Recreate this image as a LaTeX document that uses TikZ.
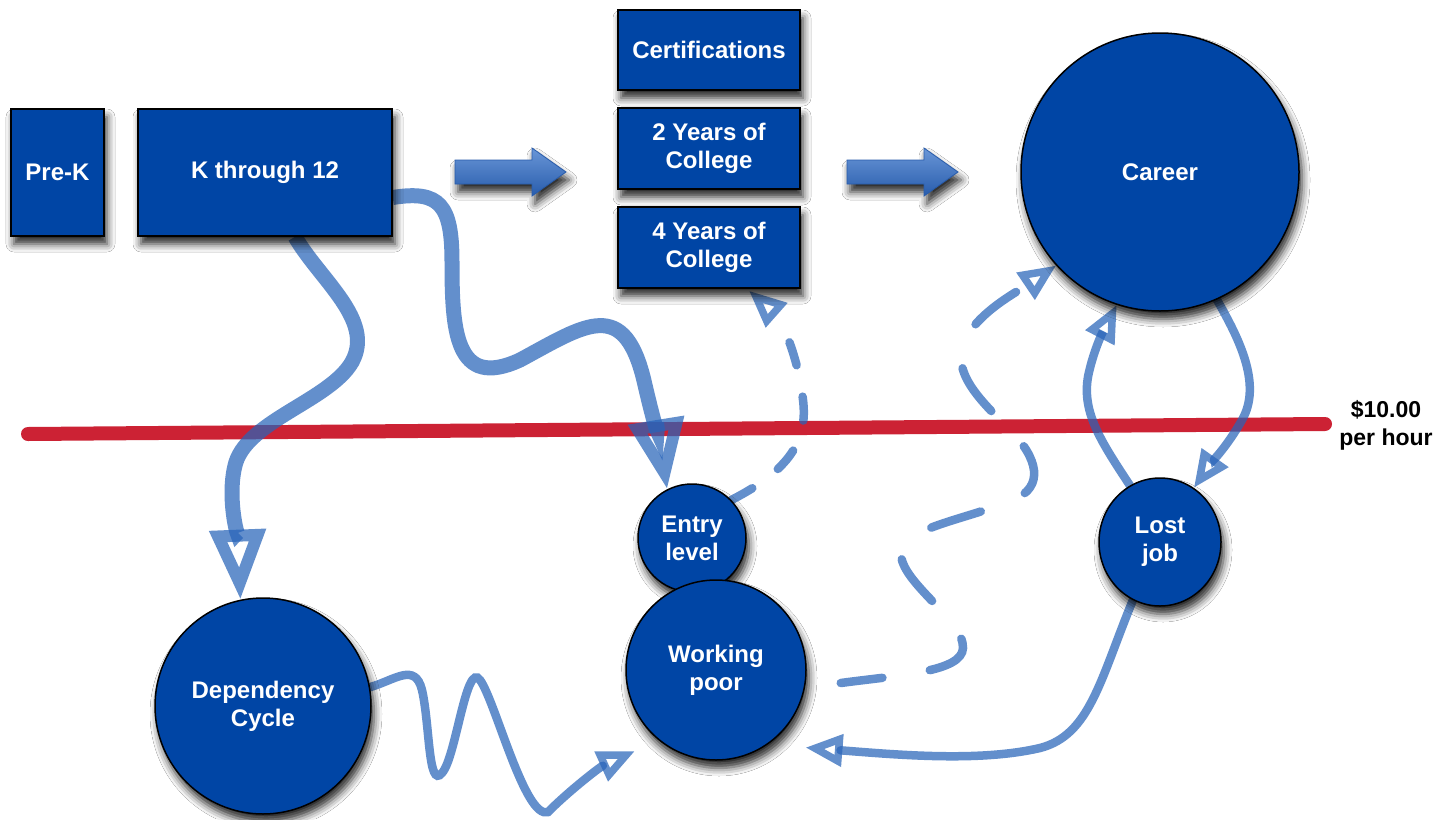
\documentclass[tikz,border=0pt]{standalone}
\usepackage{fontspec}
\setmainfont{Liberation Sans}
\usetikzlibrary{arrows.meta,shadows.blur,shapes.geometric,calc,backgrounds}
\definecolor{nodeblue}{RGB}{0,69,165}
\definecolor{flow}{RGB}{40,100,185}
\definecolor{limit}{RGB}{204,34,52}
\definecolor{arrowtop}{RGB}{105,150,215}
\definecolor{arrowbot}{RGB}{40,92,172}
\begin{document}
\begin{tikzpicture}[x=1pt,y=-1pt,
  lbl/.style={font=\bfseries\fontsize{24}{28}\selectfont, text=white, align=center},
  shad/.style={blur shadow={shadow xshift=3pt, shadow yshift=-8pt, shadow blur radius=8pt, shadow opacity=85}},
  box/.style={lbl, shad, rectangle, draw=black, line width=1.5pt, fill=nodeblue, inner sep=0pt},
  disc/.style={lbl, shad, circle, draw=black, line width=1.5pt, fill=nodeblue, inner sep=0pt},
  oval/.style={lbl, shad, ellipse, draw=black, line width=1.5pt, fill=nodeblue, inner sep=0pt},
  bigflow/.style={draw=flow, draw opacity=0.72, line width=15pt, -{Triangle[open, length=70pt, width=54pt, line width=12pt]}},
  smallflow/.style={draw=flow, draw opacity=0.72, line width=8.5pt, line cap=round, -{Triangle[open, length=37pt, width=31pt, line width=7.5pt]}},
  dashflow/.style={smallflow, dash pattern=on 52pt off 48pt},
  blockarrow/.style={top color=arrowtop, bottom color=arrowbot, draw=arrowbot, line width=0.8pt, shad},
]
\useasboundingbox (0,0) rectangle (1445,819);

% nodes
\node[box, minimum width=93pt, minimum height=127pt] (prek) at (57.5,172.5) {Pre-K};
\node[box, minimum width=254pt, minimum height=127pt] (k12) at (265,172.5) {K through 12};
\node[box, minimum width=182pt, minimum height=80pt] (cert) at (709,50) {Certifications};
\node[box, minimum width=182pt, minimum height=81pt] (c2) at (709,148.5) {2 Years of\\College};
\node[box, minimum width=182pt, minimum height=81pt] (c4) at (709,247.5) {4 Years of\\College};
\node[disc, minimum size=278pt] (career) at (1160,172) {Career};
\node[disc, minimum size=108pt] (entry) at (692,538) {Entry\\level};
\node[disc, minimum size=180pt] (wp) at (716,670) {Working\\poor};
\node[oval, minimum width=122pt, minimum height=128pt] (lost) at (1160,542) {Lost\\job};
\node[disc, minimum size=216pt] (dep) at (263,706) {Dependency\\Cycle};
\node[font=\bfseries\fontsize{23}{28}\selectfont, text=black, align=center] (wage) at (1386,425) {\$10.00\\per hour};

\begin{scope}[on background layer]
  \fill[white] (0,0) rectangle (1445,819);
  \coordinate (ls) at (28,434);
  \coordinate (le) at (1325,424);
  \draw[limit, line width=14pt, line cap=round] (ls) -- (le);

  % block arrows
  \path[blockarrow] (455,160) -- (532,160) -- (532,148) -- (566,172) -- (532,196) -- (532,184) -- (455,184) -- cycle;
  \path[blockarrow] (847,160) -- (924,160) -- (924,148) -- (958,172) -- (924,196) -- (924,184) -- (847,184) -- cycle;

  % thick flows
  \draw[bigflow] ($(k12.south)+(30,0)$) .. controls (320,280) and (375,320) .. (352,362)
     .. controls (330,400) and (250,420) .. (236,462)
     .. controls (226,495) and (238,540) .. (dep.102);
  \draw[bigflow] ($(k12.east)+(0,25)$) .. controls (440,190) and (452,205) .. (452,262)
     .. controls (452,330) and (455,390) .. (520,360)
     .. controls (585,325) and (625,295) .. (645,385)
     .. controls (652,415) and (660,445) .. (entry.117);

  % thin flows
  \draw[smallflow] (dep.10) .. controls (395,680) and (415,662) .. (422,690)
     .. controls (430,725) and (428,790) .. (442,773)
     .. controls (456,758) and (466,660) .. (480,680)
     .. controls (495,700) and (525,820) .. (548,812)
     .. controls (570,790) and (600,767) .. ($(wp.225)+(-17,17)$);
  \draw[smallflow] (lost.245) .. controls (1100,680) and (1090,735) .. (1040,748)
     .. controls (980,762) and (900,755) .. ($(wp.-41)+(21,18)$);
  \draw[smallflow] (career.294) .. controls (1240,340) and (1262,385) .. (1242,420)
     .. controls (1228,445) and (1212,462) .. (lost.58);
  \draw[smallflow] (lost.118) .. controls (1100,440) and (1080,410) .. (1089,372)
     .. controls (1096,342) and (1108,322) .. (career.252);

  % dashed flows
  \draw[dashflow, dash pattern=on 24pt off 32pt] (entry.44) .. controls (790,470) and (808,440) .. (803,400)
     .. controls (799,360) and (782,320) .. ($(c4.south)+(40,2)$);
  \draw[dashflow, dash phase=10pt] ($(wp.east)+(34,13)$) .. controls (900,675) and (962,672) .. (963,648)
     .. controls (964,620) and (900,582) .. (901,553)
     .. controls (902,528) and (965,520) .. (1013,500)
     .. controls (1045,487) and (1038,458) .. (1010,430)
     .. controls (980,400) and (950,372) .. (965,340)
     .. controls (978,312) and (1020,290) .. (career.222);
\end{scope}
\end{tikzpicture}
\end{document}
